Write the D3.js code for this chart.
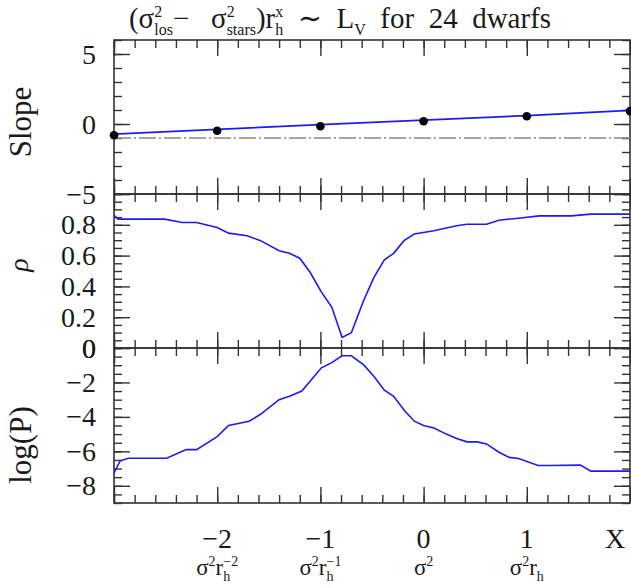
<!DOCTYPE html>
<html>
<head>
  <meta charset="utf-8">
  <title>Slope, rho and log(P) vs X</title>
  <script src="https://d3js.org/d3.v7.min.js"></script>
  <style>
    body { margin: 0; background: #fff; }
    text { font-family: "Liberation Serif", "DejaVu Serif", serif; fill: #1a1a1a; white-space: pre; }
  </style>
</head>
<body>
<div id="chart"></div>
<script>
// slope at integer X (dots) and the fitted blue line
const slopeX = [-3, -2, -1, 0, 1, 2];
const slopeDots = [-0.8, -0.48, -0.16, 0.2, 0.55, 0.92];
const slopeLine = [-0.72, -0.38, -0.05, 0.27, 0.6, 0.98];
const slopeRef = -1;

// rho vs X
const rhoX = [-3, -2.96, -2.51, -2.34, -2.2, -2.0, -1.89, -1.71, -1.58, -1.4, -1.3, -1.2, -1.1, -0.99,
  -0.89, -0.79, -0.7, -0.58, -0.48, -0.38, -0.29, -0.19, -0.09, 0.1, 0.32, 0.42, 0.61, 0.73,
  0.92, 1.12, 1.43, 1.62, 2.0];
const rhoVal = [0.862, 0.837, 0.837, 0.815, 0.815, 0.783, 0.746, 0.729, 0.697, 0.632, 0.615, 0.583,
  0.492, 0.363, 0.266, 0.069, 0.099, 0.31, 0.46, 0.572, 0.615, 0.697, 0.74, 0.761, 0.794, 0.804,
  0.804, 0.83, 0.843, 0.858, 0.858, 0.869, 0.869];

// log(P) vs X
const logPX = [-3, -2.94, -2.86, -2.49, -2.3, -2.2, -2.0, -1.89, -1.69, -1.58, -1.4, -1.3, -1.18,
  -0.99, -0.89, -0.79, -0.7, -0.58, -0.48, -0.38, -0.29, -0.19, -0.09, 0.0, 0.1, 0.22, 0.32,
  0.42, 0.52, 0.61, 0.73, 0.83, 0.92, 1.11, 1.23, 1.52, 1.62, 2.0];
const logPVal = [-7.25, -6.55, -6.4, -6.4, -5.9, -5.9, -5.15, -4.5, -4.25, -3.85, -3.0, -2.8, -2.5,
  -1.15, -0.85, -0.45, -0.45, -0.98, -1.65, -2.45, -2.8, -3.6, -4.25, -4.5, -4.65, -5.0, -5.25,
  -5.45, -5.45, -5.57, -6.05, -6.35, -6.42, -6.82, -6.82, -6.8, -7.15, -7.15];

const xLabels = [-2, -1, 0, 1];

const W = 631, H = 588;
const svg = d3.select("#chart").append("svg").attr("width", W).attr("height", H);

const x = d3.scaleLinear().domain([-3, 2]).range([114, 630]);

const minus = s => s.replace("-", "\u2212");
const panels = [
  { top: 40, bottom: 194, domain: [-5, 6], major: [-5, 0, 5], minor: d3.range(-5, 6.01, 1), labels: [5, 0, -5], fmt: d => minus(d3.format("d")(d)) },
  { top: 194, bottom: 348, domain: [0, 1], major: [0, 0.2, 0.4, 0.6, 0.8, 1], minor: d3.range(0, 1.001, 0.05), labels: [0.8, 0.6, 0.4, 0.2, 0], fmt: d => d === 0 ? "0" : d3.format(".1f")(d) },
  { top: 348, bottom: 503, domain: [-9, 0], major: [-8, -6, -4, -2, 0], minor: d3.range(-9, 0.01, 0.5), labels: [0, -2, -4, -6, -8], fmt: d => minus(d3.format("d")(d)) }
];
panels.forEach(p => { p.y = d3.scaleLinear().domain(p.domain).range([p.bottom, p.top]); });

const frameColor = "#333";
const xMinor = d3.range(-3, 2.001, 0.2);
const xMajor = [-3, -2, -1, 0, 1, 2];

function styleAxis(g) {
  g.select(".domain").remove();
  g.selectAll("line").attr("stroke", frameColor).attr("stroke-width", 1.4);
}

panels.forEach(p => {
  // x ticks top and bottom, pointing inward
  [[d3.axisTop, p.top], [d3.axisBottom, p.bottom]].forEach(([ax, yy]) => {
    svg.append("g").attr("transform", `translate(0,${yy})`)
      .call(ax(x).tickValues(xMinor).tickSize(-8).tickFormat("")).call(styleAxis);
    svg.append("g").attr("transform", `translate(0,${yy})`)
      .call(ax(x).tickValues(xMajor).tickSize(-16).tickFormat("")).call(styleAxis);
  });
  // y ticks left and right, pointing inward
  [[d3.axisLeft, x.range()[0]], [d3.axisRight, x.range()[1]]].forEach(([ax, xx]) => {
    svg.append("g").attr("transform", `translate(${xx},0)`)
      .call(ax(p.y).tickValues(p.minor).tickSize(-8).tickFormat("")).call(styleAxis);
    svg.append("g").attr("transform", `translate(${xx},0)`)
      .call(ax(p.y).tickValues(p.major).tickSize(-16).tickFormat("")).call(styleAxis);
  });
  // frame
  svg.append("rect")
    .attr("x", x.range()[0]).attr("y", p.top)
    .attr("width", x.range()[1] - x.range()[0]).attr("height", p.bottom - p.top)
    .attr("fill", "none").attr("stroke", frameColor).attr("stroke-width", 1.6);
  // tick labels
  svg.append("g").selectAll("text").data(p.labels).enter().append("text")
    .attr("x", 96).attr("y", d => p.y(d))
    .attr("dy", "0.34em")
    .attr("text-anchor", "end")
    .style("font-size", "28px")
    .text(p.fmt);
});

// top panel: reference line, fitted slope line, dots
const pS = panels[0];
svg.append("line")
  .attr("x1", x(-3)).attr("x2", x(2))
  .attr("y1", pS.y(slopeRef)).attr("y2", pS.y(slopeRef))
  .attr("stroke", "#888").attr("stroke-width", 1.3)
  .attr("stroke-dasharray", "17,3,2,3");
svg.append("path")
  .datum(slopeX.map((v, i) => [v, slopeLine[i]]))
  .attr("fill", "none").attr("stroke", "#1a1aff").attr("stroke-width", 1.7)
  .attr("d", d3.line().x(d => x(d[0])).y(d => pS.y(d[1])));
svg.append("g").selectAll("circle")
  .data(slopeX.map((v, i) => [v, slopeDots[i]]))
  .enter().append("circle")
  .attr("cx", d => x(d[0])).attr("cy", d => pS.y(d[1]))
  .attr("r", 4.3).attr("fill", "#000");

// rho curve
const pR = panels[1];
svg.append("path")
  .datum(rhoX.map((v, i) => [v, rhoVal[i]]))
  .attr("fill", "none").attr("stroke", "#1a1aff").attr("stroke-width", 1.6)
  .attr("d", d3.line().x(d => x(d[0])).y(d => pR.y(d[1])));

// log(P) curve
const pP = panels[2];
svg.append("path")
  .datum(logPX.map((v, i) => [v, logPVal[i]]))
  .attr("fill", "none").attr("stroke", "#1a1aff").attr("stroke-width", 1.6)
  .attr("d", d3.line().x(d => x(d[0])).y(d => pP.y(d[1])));

// rich text helper: parts drawn left to right, stacked parts share one x start
function richText(x0, y0, parts, baseSize) {
  const g = svg.append("g");
  let cx = 0;
  parts.forEach(part => {
    const items = Array.isArray(part) ? part : [part];
    let w = 0;
    items.forEach(it => {
      const t = g.append("text")
        .attr("x", cx).attr("y", it.dy || 0)
        .style("font-size", (it.size || baseSize) + "px")
        .text(it.t);
      w = Math.max(w, t.node().getComputedTextLength());
    });
    cx += w;
  });
  g.attr("transform", `translate(${x0 - cx / 2},${y0})`);
  return g;
}

// title
richText(340, 28, [
  { t: "(" }, { t: "σ" },
  [{ t: "2", size: 16, dy: -11 }, { t: "los", size: 16, dy: 7 }],
  { t: "\u2212   " }, { t: "σ" },
  [{ t: "2", size: 16, dy: -11 }, { t: "stars", size: 16, dy: 7 }],
  { t: ")r" },
  [{ t: "x", size: 16, dy: -11 }, { t: "h", size: 16, dy: 7 }],
  { t: "  \u223C  L" }, { t: "V", size: 16, dy: 7 },
  { t: "  for  24  dwarfs" }
], 29);

// x labels
svg.append("g").selectAll("text").data(xLabels).enter().append("text")
  .attr("x", d => x(d)).attr("y", 548)
  .attr("text-anchor", "middle")
  .style("font-size", "28px")
  .text(d => minus(d3.format("d")(d)));
svg.append("text")
  .attr("x", x(2) - 15).attr("y", 548)
  .attr("text-anchor", "middle")
  .style("font-size", "28px")
  .text("X");

const subLabels = [
  [{ t: "σ" }, { t: "2", size: 14, dy: -9 }, { t: "r" }, [{ t: "\u22122", size: 14, dy: -9 }, { t: "h", size: 14, dy: 6 }]],
  [{ t: "σ" }, { t: "2", size: 14, dy: -9 }, { t: "r" }, [{ t: "\u22121", size: 14, dy: -9 }, { t: "h", size: 14, dy: 6 }]],
  [{ t: "σ" }, { t: "2", size: 14, dy: -9 }],
  [{ t: "σ" }, { t: "2", size: 14, dy: -9 }, { t: "r" }, { t: "h", size: 14, dy: 6 }]
];
xLabels.forEach((v, i) => richText(x(v), 575, subLabels[i], 23));

// y titles
svg.append("text").attr("transform", "translate(31,122) rotate(-90)")
  .attr("text-anchor", "middle").style("font-size", "31px").text("Slope");
svg.append("text").attr("transform", "translate(28,265) rotate(-90)")
  .attr("text-anchor", "middle").style("font-size", "28px").style("font-style", "italic").text("ρ");
svg.append("text").attr("transform", "translate(31,445) rotate(-90)")
  .attr("text-anchor", "middle").style("font-size", "31px").text("log(P)");
</script>
</body>
</html>
